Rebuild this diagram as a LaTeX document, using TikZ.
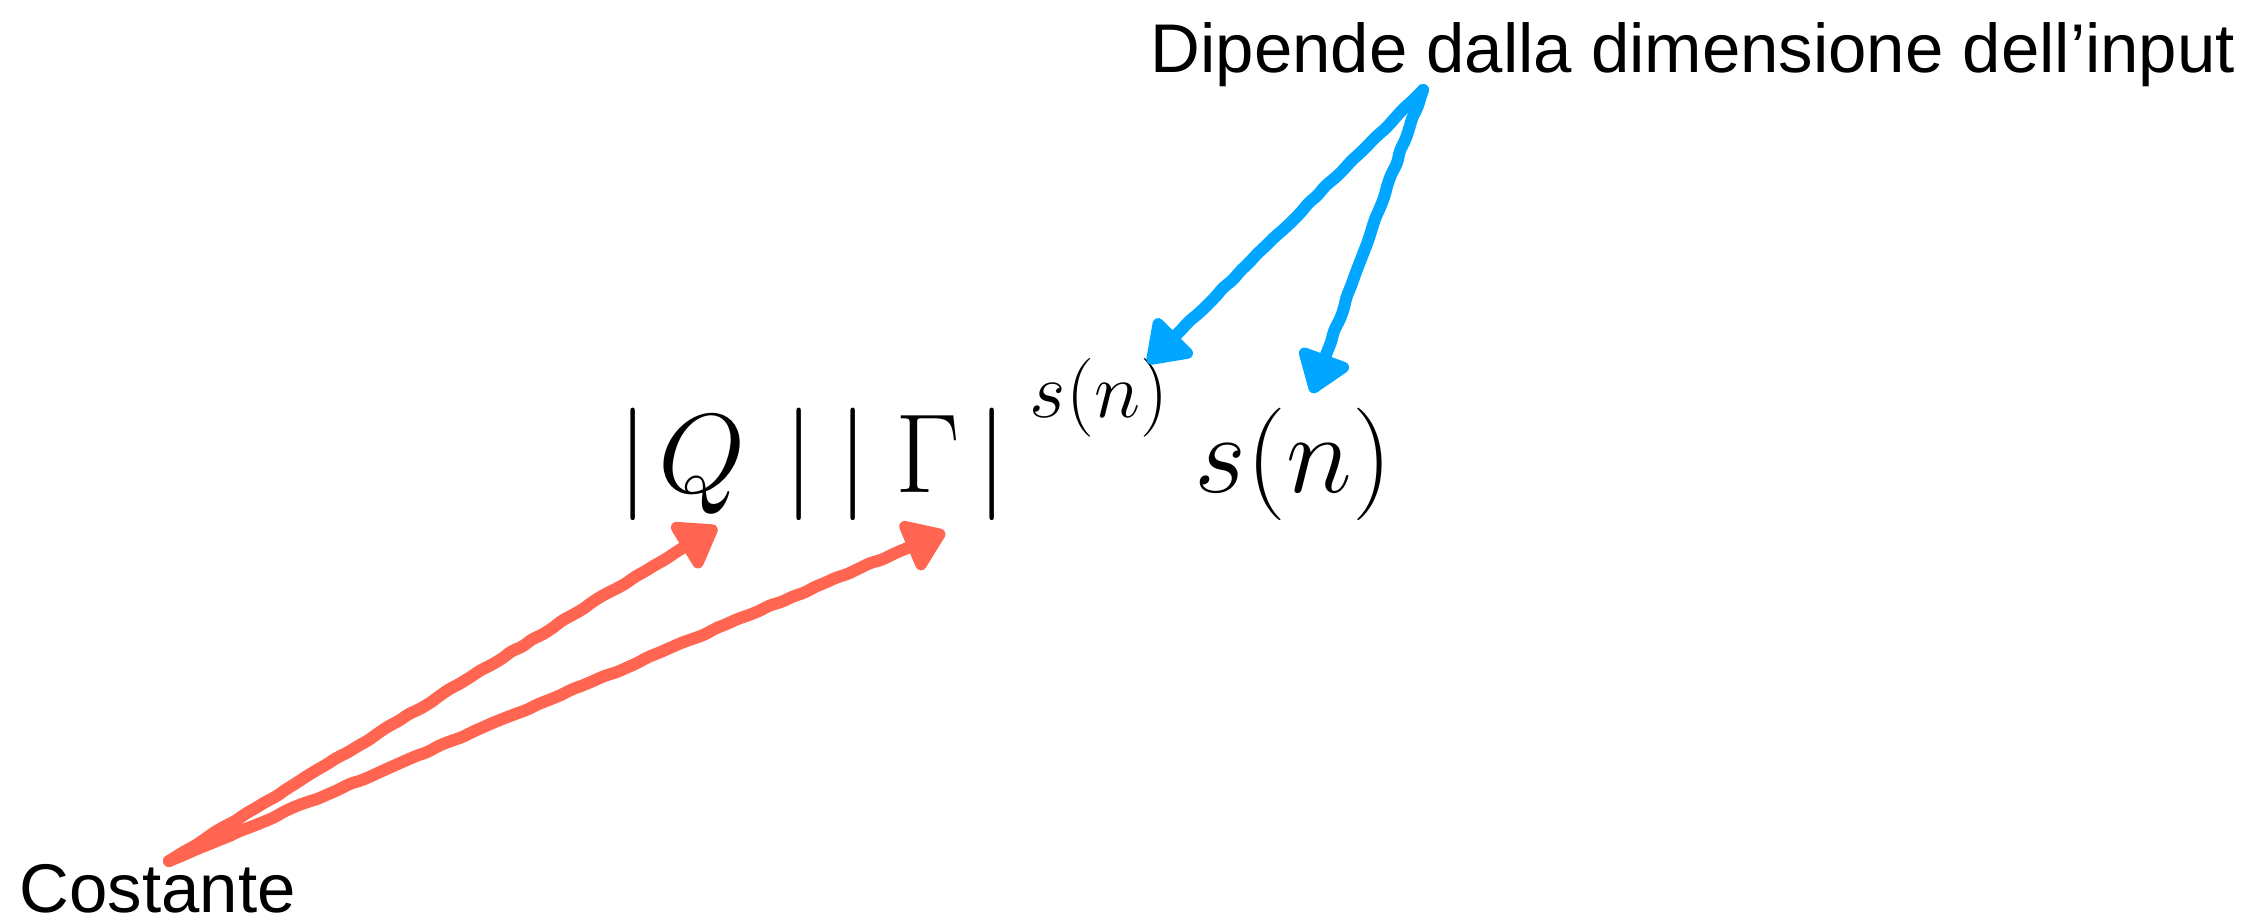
\RequirePackage{fix-cm}
\documentclass[tikz,border=0pt]{standalone}
\usepackage{amsmath,amssymb}
\usepackage{fontspec}
\newfontfamily\labelfont{Liberation Sans}
\usepackage{tikz}
\usetikzlibrary{arrows.meta}
\usetikzlibrary{decorations.pathmorphing}
\definecolor{constred}{RGB}{255,101,80}
\definecolor{inputblue}{RGB}{0,166,255}

\begin{document}
\begin{tikzpicture}[x=0.01cm, y=-0.01cm]
    \tikzset{tag/.style={font=\labelfont\fontsize{19.6}{23}\selectfont, inner sep=0pt, anchor=base west}};
    \tikzset{hand/.style={line width=0.12cm, line cap=round, line join=round, rounded corners=0.04cm, decorate,
      decoration={random steps, segment length=0.12cm, amplitude=0.01cm, pre length=0.05cm, post length=0.45cm},
      -{Triangle[length=0.45cm, width=0.6cm, round]}}};
    \pgfmathsetseed{7}
    \useasboundingbox (0,0) rectangle (2268,923);
%%
  \node (formula) at (617,492) [inner sep=0pt, anchor=base west, font=\fontsize{32}{38}\selectfont]
    {$|\mkern1.6mu Q\mkern6mu|\mkern3.6mu|\mkern4.3mu\Gamma\mkern2.6mu|^{\mkern5mu\raisebox{0.3em}{$\scriptstyle s(n)$}}\mkern4mu s(n)$};
  \node (input) at (1150,72) [tag] {Dipende dalla dimensione dell’input};
  \node (const) at (19,912) [tag] {Costante};

  \coordinate (inputfrom) at (1423,90);
  \coordinate (constfrom) at (169,861);
  \coordinate (qtip) at (717,527);
  \coordinate (gammatip) at (945,532);
  \coordinate (suptip) at (1148,363);
  \coordinate (stip) at (1312,393);

  \draw [hand, constred] (constfrom) -- (qtip);
  \draw [hand, constred] (constfrom) -- (gammatip);
  \draw [hand, inputblue] (inputfrom) -- (suptip);
  \draw [hand, inputblue] (inputfrom) -- (stip);
  %
\end{tikzpicture}
\end{document}
